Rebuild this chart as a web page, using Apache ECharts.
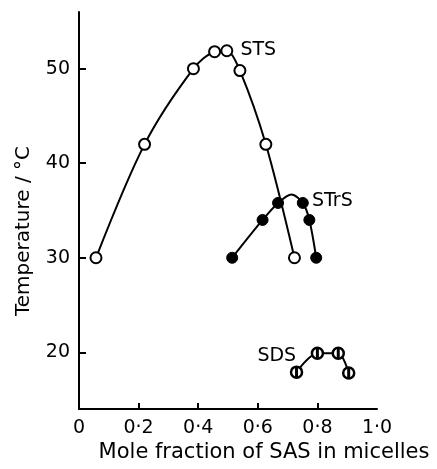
<!DOCTYPE html>
<html>
<head>
<meta charset="utf-8">
<script src="https://cdn.jsdelivr.net/npm/echarts@6/dist/echarts.min.js"></script>
<style>
  html, body { margin: 0; padding: 0; background: #fff; }
  #chart { width: 437px; height: 469px; }
</style>
</head>
<body>
<div id="chart"></div>
<script>
// x tick labels as printed
var xTickLabels = ['0', '0·2', '0·4', '0·6', '0·8', '1·0']
var yTickValues = [20, 30, 40, 50]

// STS (open circles)
var stsX = [0.057, 0.22, 0.384, 0.455, 0.496, 0.54, 0.627, 0.723]
var stsT = [30, 42, 50, 51.8, 51.9, 49.8, 42, 30]

// STrS (filled circles); the 4th point is the top of the drawn curve, no marker
var strsX = [0.514, 0.616, 0.668, 0.713, 0.751, 0.773, 0.796]
var strsT = [30, 34, 35.8, 36.7, 35.8, 34, 30]
var strsMarked = [true, true, true, false, true, true, true]

// SDS (barred circles)
var sdsX = [0.73, 0.8, 0.87, 0.905]
var sdsT = [17.9, 19.9, 19.9, 17.8]

// curve labels, anchored at the left edge of the text
var curveNames = ['STS', 'STrS', 'SDS']
var curveLabelX = [0.54, 0.78, 0.597]
var curveLabelT = [52.0, 36.0, 19.6]

var ink = '#000'
var font = 'DejaVu Sans'

function pairs (xs, ys) {
  return xs.map(function (x, i) { return [x, ys[i]] })
}

var myChart = echarts.init(document.getElementById('chart'))

var option = {
  animation: false,
  backgroundColor: '#fff',
  grid: { left: 79, right: 60, top: 12, bottom: 60 },
  xAxis: {
    type: 'value',
    min: 0,
    max: 1,
    interval: 0.2,
    axisLine: { lineStyle: { color: ink, width: 2 } },
    axisTick: { inside: true, length: 6, lineStyle: { color: ink, width: 2 }, customValues: [0.2, 0.4, 0.6, 0.8] },
    axisLabel: {
      color: ink, fontFamily: font, fontSize: 19, margin: 10,
      showMinLabel: true, showMaxLabel: true,
      formatter: function (v) { return xTickLabels[Math.round(v * 5)] }
    },
    splitLine: { show: false }
  },
  yAxis: {
    type: 'value',
    min: 14,
    max: 56,
    axisLine: { show: true, lineStyle: { color: ink, width: 2 } },
    axisTick: { show: true, inside: true, length: 7, lineStyle: { color: ink, width: 2 }, customValues: yTickValues },
    axisLabel: { color: ink, fontFamily: font, fontSize: 19, margin: 9, customValues: yTickValues },
    splitLine: { show: false }
  },
  graphic: [
    {
      type: 'text',
      x: 24, y: 231, rotation: Math.PI / 2,
      style: { text: 'Temperature / °C', fill: ink, font: '20px "DejaVu Sans"', align: 'center', verticalAlign: 'middle' }
    },
    {
      type: 'text',
      x: 264, y: 453,
      style: { text: 'Mole fraction of SAS in micelles', fill: ink, font: '21px "DejaVu Sans"', align: 'center', verticalAlign: 'middle' }
    }
  ],
  series: [
    {
      name: 'STS',
      type: 'line',
      smooth: 0.3,
      data: pairs(stsX, stsT),
      lineStyle: { color: ink, width: 2 },
      symbol: 'circle',
      symbolSize: 11,
      itemStyle: { color: '#fff', borderColor: ink, borderWidth: 2 },
      z: 3
    },
    {
      name: 'STrS',
      type: 'line',
      smooth: 0.3,
      data: pairs(strsX, strsT).map(function (p, i) {
        return strsMarked[i] ? { value: p } : { value: p, symbol: 'none' }
      }),
      lineStyle: { color: ink, width: 2 },
      symbol: 'circle',
      symbolSize: 11,
      itemStyle: { color: ink, borderColor: ink, borderWidth: 1 },
      z: 3
    },
    {
      name: 'SDS',
      type: 'line',
      smooth: 0.3,
      data: pairs(sdsX, sdsT),
      lineStyle: { color: ink, width: 2 },
      symbol: 'circle',
      symbolSize: 11,
      itemStyle: { color: '#fff', borderColor: ink, borderWidth: 2.5 },
      z: 3
    },
    {
      // vertical bar inside the SDS circles
      name: 'SDS bar',
      type: 'scatter',
      data: pairs(sdsX, sdsT),
      symbol: 'rect',
      symbolSize: [3, 10],
      itemStyle: { color: ink, opacity: 1 },
      z: 4
    },
    {
      name: 'labels',
      type: 'scatter',
      data: curveNames.map(function (n, i) {
        return { name: n, value: [curveLabelX[i], curveLabelT[i]] }
      }),
      symbolSize: 1,
      itemStyle: { color: 'transparent', opacity: 1 },
      label: {
        show: true,
        position: 'right',
        distance: 0,
        formatter: '{b}',
        color: ink,
        fontFamily: font,
        fontSize: 19
      },
      z: 5
    }
  ]
}

myChart.setOption(option)
</script>
</body>
</html>
